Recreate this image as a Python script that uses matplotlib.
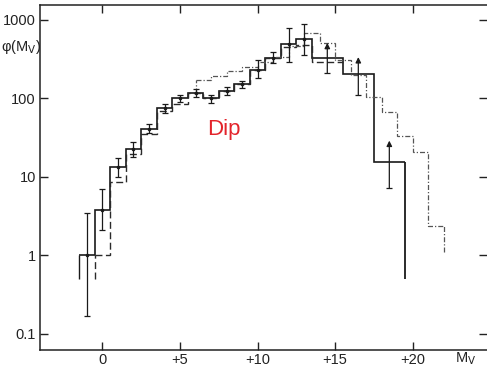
import matplotlib
matplotlib.use("Agg")
import matplotlib.pyplot as plt

# ---------------- data ----------------
# solid histogram (1-mag bins to 13.5, then 2-mag bins)
solid_edges = [-1.5, -0.5, 0.5, 1.5, 2.5, 3.5, 4.5, 5.5, 6.5, 7.5, 8.5, 9.5,
               10.5, 11.5, 12.5, 13.5, 15.5, 17.5, 19.5]
solid_vals = [1.0, 3.8, 13.5, 23, 41, 76, 100, 118, 100, 125, 152, 230,
              330, 490, 570, 330, 205, 15.5]
solid_start_low = 0.5
solid_end_low = 0.5

# error bars on the solid histogram (1-mag bins)
err_x = [-1, 0, 1, 2, 3, 4, 5, 6, 7, 8, 9, 10, 11, 12, 13]
err_lo = [0.17, 2.1, 10, 18, 36, 66, 90, 105, 87, 111, 136, 182, 283, 290, 360]
err_hi = [3.5, 7.0, 17.5, 28, 47, 84, 112, 133, 111, 141, 167, 309, 390, 790, 890]

# lower-limit arrows on the 2-mag bins
arrow_x = [14.5, 16.5, 18.5]
arrow_lo = [210, 110, 7.2]
arrow_hi = [510, 336, 29]

# dashed histogram
dash_edges = [-0.5, 0.5, 1.5, 2.5, 3.5, 4.5, 5.5, 6.5, 7.5, 8.5, 9.5,
              10.5, 11.5, 12.5, 13.5, 15.5]
dash_vals = [1.0, 8.7, 19.6, 35, 69, 84, 118, 100, 125, 152, 230,
             325, 450, 480, 290]
dash_start_low = 0.5

# dash-dotted histogram
dd_edges = [6, 7, 8, 9, 10, 11, 12, 13, 14, 15, 16, 17, 18, 19, 20, 21, 22]
dd_vals = [170, 195, 225, 255, 290, 340, 470, 680, 510, 305, 200, 104,
           67, 33, 21, 2.4]
dd_start_from = 118
dd_end_low = 1.1

xticks = [0, 5, 10, 15, 20]
xticklabels = ["0", "+5", "+10", "+15", "+20"]
yticks = [0.1, 1, 10, 100, 1000]
yticklabels = ["0.1", "1", "10", "100", "1000"]

# ---------------- style ----------------
plt.rcParams["font.family"] = ["Liberation Sans Narrow", "Liberation Sans", "DejaVu Sans"]
plt.rcParams["mathtext.fontset"] = "custom"
plt.rcParams["mathtext.rm"] = "Liberation Sans Narrow"
plt.rcParams["mathtext.it"] = "Liberation Sans Narrow"

W, H = 487, 368
fig = plt.figure(figsize=(W / 100, H / 100), dpi=100)
x0, x1, ytop, ybot = 40, 487, 5, 350
ax = fig.add_axes([x0 / W, 1 - ybot / H, (x1 - x0) / W, (ybot - ytop) / H])

ax.set_yscale("log")
ax.set_xlim(-4.03, 24.8)
ax.set_ylim(10 ** -1.204, 10 ** 3.19)

c_solid = "#1a1a1a"
c_dash = "#2a2a2a"
c_dd = "#555555"
dd_style = (0, (4, 1.6, 1, 1.6))
dash_style = (0, (5, 2.5))

# solid histogram
ax.stairs(solid_vals, solid_edges, baseline=None, color=c_solid, lw=1.2)
ax.vlines([solid_edges[0]], solid_start_low, solid_vals[0], color=c_solid, lw=1.0)
ax.vlines([solid_edges[-1]], solid_end_low, solid_vals[-1], color=c_solid, lw=1.3)

# dashed histogram
ax.stairs(dash_vals, dash_edges, baseline=None, color=c_dash, lw=1.0,
          linestyle=dash_style)
ax.vlines([dash_edges[0]], dash_start_low, dash_vals[0], color=c_dash, lw=1.0,
          linestyle=dash_style)

# dash-dotted histogram
ax.stairs(dd_vals, dd_edges, baseline=None, color=c_dd, lw=0.9,
          linestyle=dd_style)
ax.vlines([dd_edges[0]], dd_start_from, dd_vals[0], color=c_dd, lw=0.9,
          linestyle=dd_style)
ax.vlines([dd_edges[-1]], dd_end_low, dd_vals[-1], color=c_dd, lw=0.9,
          linestyle=dd_style)

# error bars
centers = solid_vals[:len(err_x)]
yerr = [[c - lo for c, lo in zip(centers, err_lo)],
        [hi - c for c, hi in zip(centers, err_hi)]]
ax.errorbar(err_x, centers, yerr=yerr, fmt="none", ecolor=c_solid,
            elinewidth=0.9, capsize=2.0, capthick=0.9)
ax.plot(err_x, centers, ls="none", marker="o", ms=1.6, color=c_solid)

# lower-limit arrows
for xa, lo, hi in zip(arrow_x, arrow_lo, arrow_hi):
    ax.annotate("", xy=(xa, hi), xytext=(xa, lo),
                arrowprops=dict(arrowstyle="-|>", color=c_solid, lw=0.9,
                                mutation_scale=8, shrinkA=0, shrinkB=0))
    ax.plot([xa], [lo], marker="_", ms=4, mew=0.9, color=c_solid)

# label "Dip"
ax.text(7.8, 34, "Dip", color="#e3242b", fontsize=16,
        family=["Liberation Sans", "DejaVu Sans"], ha="center", va="baseline")

# axes / ticks
ax.set_xticks(xticks)
ax.set_xticklabels(xticklabels)
ax.set_yticks(yticks)
ax.set_yticklabels(yticklabels)
ax.minorticks_off()
ax.tick_params(axis="both", which="major", direction="in", length=6,
               width=1.0, top=True, right=True, labelsize=10.5, colors="#222222")
ax.tick_params(axis="x", pad=2)
ax.tick_params(axis="y", pad=3)
for s in ["left", "bottom", "top"]:
    ax.spines[s].set_linewidth(1.1)
    ax.spines[s].set_color("#222222")
ax.spines["right"].set_visible(False)

fig.text(21 / W, 1 - 47 / H, r"φ(M$_{\mathrm{V}}$)", ha="center", va="center",
         fontsize=10.5, color="#222222")
fig.text(466 / W, 1 - 359 / H, r"M$_{\mathrm{V}}$", ha="center", va="center",
         fontsize=10.5, color="#222222")

fig.savefig("out.png", dpi=100)
